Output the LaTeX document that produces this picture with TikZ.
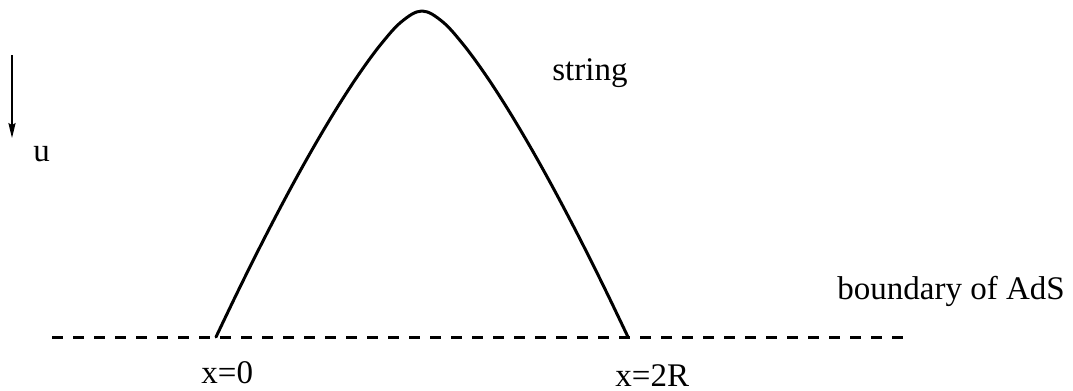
\documentclass[tikz,border=0pt]{standalone}
\usepackage{fontspec}
\setmainfont{Liberation Serif}
\usetikzlibrary{arrows.meta, positioning, calc}
\tikzset{
  lbl/.style={
    inner sep=0pt, anchor=base west,
    font=\fontsize{16.5}{19}\selectfont,
  },
  stringline/.style={
    line width=1.5pt, line join=round, line cap=round,
  },
  bdry/.style={
    line width=1.5pt, dash pattern=on 5.5pt off 5pt,
  },
  uarrow/.style={
    -{Stealth[length=7.5pt, width=3.6pt, inset=1pt]}, line width=0.65pt,
  },
}

\begin{document}
\begin{tikzpicture}[x=0.5pt, y=-0.5pt]
\useasboundingbox (0,0) rectangle (1073,391);

% =========================================================================
% end points of the string on the boundary
% =========================================================================

\coordinate (xzero) at (216,337);
\coordinate (xtwoR) at (628,337);
\coordinate (bleft) at (52,337);
\coordinate (bright) at (908,337);

% =========================================================================
% boundary of AdS and the string
% =========================================================================

\draw[bdry] (bleft) -- (bright);

% string hangs from x=0 to x=2R
\draw[stringline] plot[smooth, tension=0.6] coordinates {
  (xzero) (236.6,294.0) (257.2,252.4) (277.8,212.4) (298.4,174.1)
  (319,137.8) (339.6,103.7) (360.2,72.3) (380.8,44.4) (401.4,21.8)
  (422,11)
  (442.6,21.8) (463.2,44.4) (483.8,72.3) (504.4,103.7) (525,137.8)
  (545.6,174.1) (566.2,212.4) (586.8,252.4) (607.4,294.0) (xtwoR)};

% =========================================================================
% labels
% =========================================================================

\node[lbl] (lstring) at (552,80) {string};
\node[lbl] (lbdry) at (837,299) {boundary of AdS};
\node[lbl] (lx0) at (201,383) {x=0};
\node[lbl] (lx2R) at (615,386) {x=2R};
\node[lbl] (lu) at (33,162) {u};

% =========================================================================
% direction of u
% =========================================================================

\coordinate (utop) at (12,55);
\coordinate (ubot) at (12,138);
\draw[uarrow] (utop) -- (ubot);

\end{tikzpicture}
\end{document}
